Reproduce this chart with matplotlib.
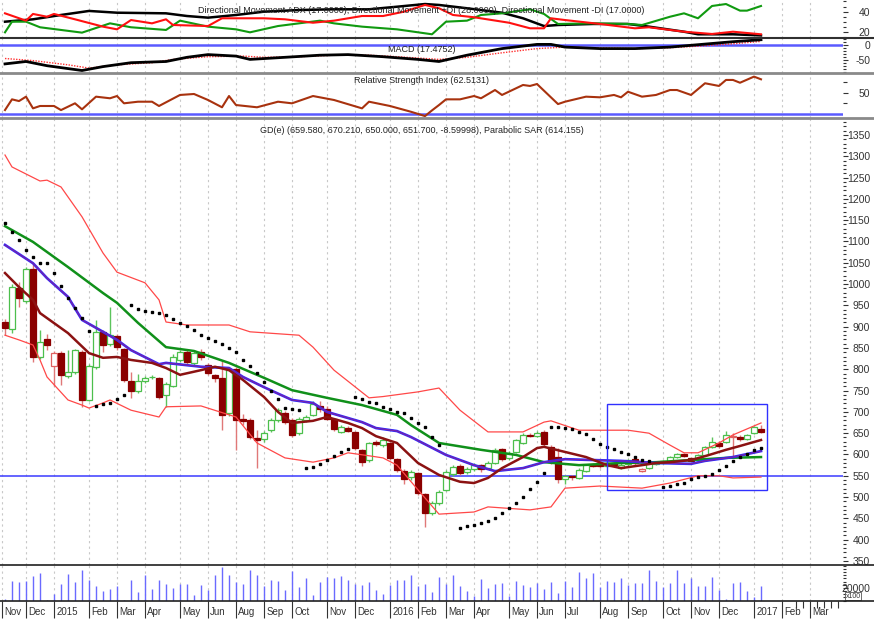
import numpy as np
import matplotlib
matplotlib.use("Agg")
import matplotlib.pyplot as plt
from matplotlib.lines import Line2D
from matplotlib.patches import Rectangle
from matplotlib.ticker import MultipleLocator, FixedLocator
import matplotlib.transforms as mtransforms

plt.rcParams['font.family'] = ['Liberation Sans', 'DejaVu Sans']
plt.rcParams['axes.unicode_minus'] = False

# weekly candles (bar index = position on the axis)
open_ = [911, 895, 991, 960, 1035, 829, 871, 808, 838, 784, 794, 840, 728, 805, 888, 859, 878, 848, 772, 749,
         772, 781, 780, 740, 761, 822, 840, 815, 840, 810, 787, 780, 697, 800, 683, 681, 639, 636, 657, 681,
         697, 681, 650, 681, 693, 714, 707, 683, 653, 662, 653, 611, 587, 629, 622, 627, 589, 561, 547, 557,
         507, 463, 486, 517, 554, 573, 559, 566, 575, 568, 580, 613, 591, 606, 627, 646, 643, 653, 618, 594,
         543, 550, 545, 561, 577, 580, 573, 580, 568, 577, 589, 561, 568, 578, 580, 585, 594, 601, 592, 587,
         599, 618, 627, 629, 641, 641, 637, 650, 659.58]
high = [918, 1000, 1005, 1040, 1050, 893, 883, 842, 842, 845, 848, 845, 812, 916, 892, 946, 882, 850, 794, 790,
        785, 787, 782, 770, 835, 845, 845, 845, 848, 815, 790, 822, 800, 805, 695, 685, 657, 655, 685, 708,
        702, 685, 688, 692, 725, 725, 715, 686, 670, 666, 656, 614, 630, 633, 640, 630, 592, 565, 563, 560,
        510, 490, 516, 563, 575, 577, 570, 580, 578, 584, 615, 616, 608, 637, 650, 650, 655, 658, 622, 615,
        553, 553, 568, 578, 580, 583, 583, 583, 579, 590, 592, 569, 583, 585, 588, 597, 604, 604, 595, 602,
        621, 640, 631, 655, 650, 645, 649, 667, 670.21]
low = [880, 885, 946, 955, 817, 825, 845, 761, 763, 780, 790, 712, 725, 800, 840, 855, 845, 770, 733, 745,
       768, 777, 730, 712, 758, 818, 812, 810, 822, 786, 770, 657, 690, 611, 669, 636, 568, 630, 652, 676,
       672, 642, 646, 676, 690, 700, 680, 655, 650, 652, 610, 572, 583, 620, 618, 588, 560, 530, 540, 505,
       430, 458, 482, 514, 550, 552, 555, 562, 560, 565, 577, 585, 588, 603, 624, 640, 640, 620, 578, 532,
       530, 540, 542, 558, 570, 568, 570, 572, 565, 574, 576, 558, 565, 575, 577, 582, 591, 593, 582, 584,
       596, 615, 616, 626, 594, 632, 634, 647, 650.0]
close = [897, 993, 967, 1035, 829, 864, 857, 838, 787, 794, 845, 728, 808, 888, 857, 880, 852, 775, 749, 772,
         779, 783, 735, 765, 829, 840, 817, 838, 829, 791, 780, 693, 798, 681, 679, 641, 634, 650, 681, 704,
         676, 646, 683, 688, 718, 707, 683, 660, 665, 655, 615, 582, 627, 625, 634, 592, 564, 542, 559, 510,
         463, 486, 512, 559, 571, 557, 566, 575, 566, 580, 611, 589, 604, 634, 646, 643, 650, 625, 582, 542,
         550, 546, 564, 575, 573, 572, 580, 575, 576, 587, 580, 566, 580, 582, 585, 594, 601, 596, 585, 599,
         618, 629, 620, 646, 644, 636, 646, 664, 651.7]
volume = [2800, 30500, 28900, 30500, 38900, 43300, 1500, 10000, 26100, 41700,
          30000, 48900, 31700, 23300, 15000, 17800, 22200, 1100, 31700, 13900,
          40000, 18900, 32200, 26700, 19500, 26100, 26700, 8300, 24500, 16700,
          40600, 52800, 40000, 30000, 26700, 48400, 40600, 22200, 31700, 31100,
          16100, 46100, 20600, 36100, 8300, 28900, 36700, 36100, 38400, 32800,
          26700, 25000, 30000, 16700, 10000, 24500, 32200, 32800, 40000, 22200,
          26700, 13900, 37200, 26100, 41100, 22200, 15000, 7800, 34400, 19400,
          26100, 27800, 7800, 31100, 25000, 20600, 27800, 17800, 30000, 12200,
          30600, 20600, 45600, 35600, 43900, 21700, 30600, 30000, 35600, 24500,
          27200, 27200, 48400, 31100, 20600, 27800, 47800, 27800, 35600, 23300,
          23300, 36700, 16700, 2200, 27200, 30000, 15000, 5600, 22200]
nan = np.nan
sar = [1143, 1122, 1104, 1080, 1063, 1050, 1050, 1026, 996, 967,
       944, 920, 890, 714, 718, 721, 730, 740, 951, 942,
       937, 935, 932, 928, 918, 909, 902, 893, 880, 874,
       866, 859, 850, 841, 822, 808, 791, 770, 750, 730,
       709, 707, 704, 568, 571, 578, 587, 597, 606, 613,
       735, 730, 723, 721, 712, 707, 700, 697, 686, 674,
       665, 641, 622, nan, nan, 428, 432, 434, 439, 444,
       451, 463, 474, 486, 500, 519, 535, 557, 665, 665,
       662, 660, 653, 648, 636, 625, 618, 612, 605, 600,
       593, 588, 585, nan, 524, 526, 531, 534, 543, 547,
       550, 554, 564, 573, 585, 594, 601, 611, 614.155]

# overlay lines (bar index, value)
bb_up_x = [0, 1, 5, 6, 8, 11, 14, 16, 20, 22, 23, 26, 32, 35, 42, 44, 47, 52, 54, 59,
           62, 65, 69, 74, 77, 78, 82, 89, 92, 95, 97, 99, 102, 104, 108]
bb_up = [1303, 1275, 1242, 1244, 1228, 1158, 1073, 1028, 1003, 963, 911, 904, 904, 888, 880, 852, 798, 733, 736, 747,
         756, 704, 653, 653, 676, 679, 657, 657, 650, 622, 604, 604, 627, 646, 674]
bb_lo_x = [0, 2, 4, 5, 6, 9, 11, 12, 14, 15, 18, 22, 23, 28, 33, 36, 40, 44, 47, 49,
           52, 54, 56, 59, 62, 67, 69, 75, 78, 80, 85, 91, 95, 99, 102, 104, 108]
bb_lo = [880, 869, 857, 822, 782, 728, 716, 709, 721, 728, 704, 688, 712, 714, 688, 627, 592, 582, 592, 604,
         597, 592, 575, 517, 460, 465, 477, 470, 477, 521, 526, 521, 533, 550, 550, 545, 547]
ma_long_x = [0, 4, 9, 14, 16, 19, 23, 27, 32, 37, 41, 46, 51, 56, 58, 62, 68, 73, 77, 82, 88, 93, 98, 103, 108]
ma_long = [1136, 1099, 1040, 979, 956, 909, 852, 843, 815, 780, 751, 733, 716, 693, 669, 627, 611, 599, 582, 575,
           580, 582, 587, 592, 594]
ma_mid_x = [0, 4, 6, 9, 11, 14, 16, 18, 22, 23, 28, 32, 34, 37, 41, 44, 46, 51, 53, 56,
            58, 63, 67, 70, 74, 77, 80, 84, 88, 93, 98, 100, 104, 108]
ma_mid = [1092, 1049, 1014, 970, 916, 888, 869, 845, 812, 815, 806, 803, 782, 758, 728, 721, 700, 676, 662, 655,
          641, 599, 575, 561, 568, 582, 589, 587, 585, 580, 578, 585, 594, 608]
ma_short_x = [0, 2, 4, 5, 9, 12, 14, 16, 18, 21, 23, 25, 28, 30, 32, 34, 37, 39, 41, 44,
              46, 49, 51, 53, 56, 59, 62, 65, 67, 69, 71, 74, 76, 77, 80, 83, 86, 88, 91, 93,
              95, 98, 100, 103, 105, 108]
ma_short = [1026, 993, 963, 932, 885, 838, 827, 829, 822, 815, 803, 787, 798, 806, 798, 775, 735, 700, 674, 679,
            688, 674, 662, 643, 627, 580, 552, 536, 533, 545, 568, 594, 615, 618, 606, 594, 575, 568, 575, 580,
            582, 587, 596, 611, 620, 634]

# directional movement
adx_x = [0, 4, 8, 12, 16, 23, 26, 29, 33, 37, 42, 47, 52, 56, 60, 62, 66, 71, 74, 77, 79, 84, 89, 92, 97, 99, 104, 108]
adx = [30.3, 32.6, 36.8, 40.7, 39.0, 38.4, 35.8, 34.2, 36.8, 40.0, 41.6, 42.3, 42.3, 44.8, 47.4, 46.5, 43.3, 39.0,
       33.6, 26.1, 27.1, 28.1, 28.1, 25.5, 20.6, 18.1, 18.1, 17.0]
pdi_x = [0, 1, 3, 5, 11, 15, 18, 23, 25, 29, 33, 35, 39, 42, 45, 47, 51, 56, 61, 63,
         66, 68, 71, 75, 77, 79, 84, 89, 91, 95, 97, 99, 101, 103, 105, 106, 108]
pdi = [20.0, 30.3, 30.3, 24.9, 19.7, 28.7, 24.9, 22.3, 31.3, 25.5, 22.9, 20.0, 26.1, 28.7, 31.3, 28.7, 25.5, 22.9,
       18.1, 30.3, 31.3, 36.8, 38.4, 42.3, 37.8, 28.1, 28.7, 28.1, 27.1, 35.1, 38.4, 33.6, 45.5, 47.4, 41.0, 41.0, 45.5]
mdi_x = [0, 3, 4, 6, 7, 10, 14, 16, 18, 21, 23, 24, 29, 31, 37, 40, 44, 47, 51, 54,
         57, 60, 62, 64, 67, 72, 75, 77, 78, 80, 85, 90, 92, 97, 101, 104, 108]
mdi = [38.4, 31.3, 37.8, 35.1, 37.8, 32.6, 25.5, 22.9, 31.9, 28.7, 32.6, 27.1, 26.1, 33.6, 33.6, 32.6, 29.3, 31.3,
       35.8, 35.8, 40.0, 46.5, 43.3, 36.8, 34.6, 29.3, 23.9, 23.9, 33.6, 31.9, 28.1, 23.9, 24.9, 20.6, 18.4, 20.6, 18.1]

# MACD and signal
macd_x = [0, 3, 6, 11, 14, 18, 23, 26, 29, 33, 35, 40, 45, 49, 54, 59, 62, 66, 71, 76, 78, 80, 85, 90, 95, 99, 104, 108]
macd = [-63, -55, -69, -85, -72, -59, -55, -41, -32, -37, -48, -41, -34, -32, -39, -48, -55, -34, -12, 2, 2, -7,
        -12, -12, -7, 1, 11, 17.5]
sig_x = [0, 4, 9, 12, 16, 21, 24, 29, 34, 37, 42, 47, 52, 56, 62, 66, 71, 76, 80, 85, 90, 95, 99, 104, 108]
sig = [-45, -52, -66, -77, -66, -59, -48, -39, -37, -41, -39, -34, -34, -39, -48, -41, -26, -12, -7, -10, -12, -9,
       -4, 4, 12]

# RSI
rsi_x = [0, 1, 2, 3, 4, 5, 7, 8, 10, 11, 13, 15, 16, 17, 19, 21, 22, 25, 27, 29,
         31, 32, 33, 36, 39, 41, 44, 47, 51, 52, 55, 58, 60, 61, 62, 63, 65, 67, 68, 70,
         71, 74, 75, 76, 79, 80, 83, 85, 87, 88, 89, 91, 93, 95, 96, 98, 100, 102, 103, 104,
         105, 107, 108]
rsi = [33.8, 43.8, 42.2, 46.3, 35.4, 37.6, 37.6, 33.8, 40.1, 34.5, 46.3, 44.8, 46.9, 40.1, 41.6, 41.6, 37.6, 47.9,
       48.8, 43.2, 36.4, 46.9, 38.5, 36.4, 41.6, 40.1, 46.9, 43.2, 35.4, 41.6, 37.6, 32.2, 28.2, 33.5, 38.5, 43.8,
       43.8, 46.9, 44.8, 52.5, 47.9, 57.2, 56.3, 58.1, 39.4, 41.6, 46.3, 45.7, 47.9, 45.7, 50.9, 46.3, 47.9, 52.5,
       52.5, 47.9, 58.8, 56.3, 61.9, 61.9, 59.3, 65.0, 62.5]

month_pos = [-0.4, 3, 7, 12, 16, 20, 25, 29, 33, 37, 41, 46, 50, 55, 59, 63, 67, 72, 76, 80, 85, 89, 94, 98, 102, 107, 111, 115]
month_lbl = ['Nov', 'Dec', '2015', 'Feb', 'Mar', 'Apr', 'May', 'Jun', 'Aug', 'Sep', 'Oct', 'Nov', 'Dec', '2016',
             'Feb', 'Mar', 'Apr', 'May', 'Jun', 'Jul', 'Aug', 'Sep', 'Oct', 'Nov', 'Dec', '2017', 'Feb', 'Mar']
future_weeks = [113, 114, 116, 117, 118, 119]

support = 550
box_x0, box_x1, box_lo, box_hi = 86, 108.9, 517, 718

W, H = 874, 620
fig = plt.figure(figsize=(W / 100, H / 100), dpi=100)
fig.patch.set_facecolor('white')
plot_w = 843
title_size = 6.5


def panel(top, bottom):
    return fig.add_axes([0, 1 - bottom / H, plot_w / W, (bottom - top) / H])


ax_dmi = panel(0, 37.7)
ax_macd = panel(37.7, 73.3)
ax_rsi = panel(73.3, 118)
ax_p = panel(118, 565)
ax_v = panel(565, 600.5)
axes = [ax_dmi, ax_macd, ax_rsi, ax_p, ax_v]

xlo, xhi = -5 / 7, (plot_w - 5) / 7
for ax in axes:
    ax.set_xlim(xlo, xhi)
    for s in ax.spines.values():
        s.set_visible(False)
    ax.yaxis.tick_right()
    ax.tick_params(axis='x', which='both', bottom=False, labelbottom=False)
    ax.tick_params(axis='y', which='major', length=3.5, width=0.8, colors='#333333', labelsize=7.5, pad=16)
    ax.tick_params(axis='y', which='minor', length=1.8, width=0.8, colors='#333333')
    for m in month_pos:
        ax.axvline(m, color='#c8c8c8', lw=0.8, ls=(0, (2, 3)), zorder=0)

# DMI panel
ax_dmi.plot(adx_x, adx, color='black', lw=1.8)
ax_dmi.plot(pdi_x, pdi, color='#109a10', lw=1.5)
ax_dmi.plot(mdi_x, mdi, color='#ff1010', lw=1.5)
ax_dmi.set_ylim(14.8, 51.3)
ax_dmi.yaxis.set_major_locator(FixedLocator([20, 40]))
ax_dmi.yaxis.set_minor_locator(MultipleLocator(5))
ax_dmi.text(0.5, 0.73, 'Directional Movement ADX (17.0000), Directional Movement +DI (28.0000), '
            'Directional Movement -DI (17.0000)', transform=ax_dmi.transAxes, ha='center', va='center',
            fontsize=title_size, color='#222222')

# MACD panel
ax_macd.axhline(0, color='#5a5aff', lw=1.8, zorder=1)
ax_macd.plot(sig_x, sig, color='#ff3030', lw=1.0, ls=(0, (1, 1)))
ax_macd.plot(macd_x, macd, color='black', lw=2.0)
ax_macd.set_ylim(-94.3, 24.3)
ax_macd.yaxis.set_major_locator(FixedLocator([-50, 0]))
ax_macd.yaxis.set_minor_locator(MultipleLocator(10))
ax_macd.text(0.5, 0.67, 'MACD (17.4752)', transform=ax_macd.transAxes, ha='center', va='center',
             fontsize=title_size, color='#222222', zorder=10)

# RSI panel
ax_rsi.axhline(30, color='#5a5aff', lw=1.8, zorder=1)
ax_rsi.plot(rsi_x, rsi, color='#a8320e', lw=1.5)
ax_rsi.set_ylim(26.4, 68.1)
ax_rsi.yaxis.set_major_locator(FixedLocator([50]))
ax_rsi.yaxis.set_minor_locator(FixedLocator([40, 60]))
ax_rsi.tick_params(axis='y', which='minor', length=3)
ax_rsi.text(0.5, 0.85, 'Relative Strength Index (62.5131)', transform=ax_rsi.transAxes, ha='center',
            va='center', fontsize=title_size, color='#222222')

# price panel
x = np.arange(len(close))
o = np.array(open_, dtype=float)
c = np.array(close, dtype=float)
prev = np.r_[o[0], c[:-1]]
for i in x:
    up = c[i] >= prev[i]
    filled = c[i] < o[i]
    if filled:
        face = '#8b0000' if not up else '#3a9a3a'
        edge = face
    else:
        face = 'white'
        edge = '#4cbf4c' if up else '#e06060'
    wick = '#5cc45c' if up else '#e07878'
    ax_p.vlines(i, low[i], high[i], color=wick, lw=1.0, zorder=3)
    h = max(abs(c[i] - o[i]), 2)
    ax_p.bar(i, h, bottom=min(c[i], o[i]), width=0.72, facecolor=face, edgecolor=edge, lw=0.9, zorder=4)

ax_p.plot(bb_up_x, bb_up, color='#ff4848', lw=0.9, zorder=5)
ax_p.plot(bb_lo_x, bb_lo, color='#ff4848', lw=0.9, zorder=5)
ax_p.plot(ma_long_x, ma_long, color='#10901a', lw=1.8, zorder=5)
ax_p.plot(ma_mid_x, ma_mid, color='#2a2aff', lw=1.9, zorder=5)
ax_p.plot(ma_mid_x, ma_mid, color='#7a22a8', lw=0.9, zorder=6)
ax_p.plot(ma_short_x, ma_short, color='#8b1212', lw=1.8, zorder=6)
ax_p.plot(x, sar, ls='none', marker='s', ms=1.5, color='black', zorder=7)
ax_p.axhline(support, color='#3a3aff', lw=1.1, zorder=2)
ax_p.add_patch(Rectangle((box_x0, box_lo), box_x1 - box_x0, box_hi - box_lo, fill=False,
                         edgecolor='#3030ff', lw=1.0, zorder=8))
ax_p.set_ylim(340.6, 1389.9)
ax_p.yaxis.set_major_locator(MultipleLocator(50))
ax_p.yaxis.set_minor_locator(MultipleLocator(10))
ax_p.text(0.5, 0.973, 'GD(e) (659.580, 670.210, 650.000, 651.700, -8.59998), Parabolic SAR (614.155)',
          transform=ax_p.transAxes, ha='center', va='center', fontsize=title_size, color='#222222')

# volume panel
ax_v.vlines(x, 0, volume, color='#6a6aff', lw=1.0)
ax_v.set_ylim(0, 56200)
ax_v.yaxis.set_major_locator(FixedLocator([20000]))
ax_v.yaxis.set_minor_locator(MultipleLocator(5000))
ax_v.text(1.003, 0.12, 'x100', transform=ax_v.transAxes, ha='left', va='center', fontsize=5,
          color='#333333', bbox=dict(boxstyle='square,pad=0.1', fc='white', ec='#555555', lw=0.6))
ax_v.set_xticks(month_pos)
ax_v.set_xticklabels(month_lbl)
ax_v.set_xticks(future_weeks, minor=True)
ax_v.tick_params(axis='x', which='major', bottom=True, labelbottom=True, length=12, width=0.8,
                 colors='#333333', labelsize=7, pad=-7)
ax_v.tick_params(axis='x', which='minor', bottom=True, length=5, width=0.8, colors='#333333')
shift = mtransforms.ScaledTranslation(1.5 / 72, 0, fig.dpi_scale_trans)
for t in ax_v.get_xticklabels():
    t.set_ha('left')
    t.set_transform(t.get_transform() + shift)

for ax in axes:
    for t in ax.get_yticklabels():
        t.set_ha('right')

# separators between panels
for ypx, col, lw in [(37.7, '#303030', 1.5), (73.3, '#8a8a8a', 2.0), (118, '#8a8a8a', 2.0),
                     (565, '#202020', 1.2), (600.5, '#202020', 1.2)]:
    fig.add_artist(Line2D([0, 1], [1 - ypx / H] * 2, color=col, lw=lw, transform=fig.transFigure))

fig.savefig('out.png', dpi=100)
